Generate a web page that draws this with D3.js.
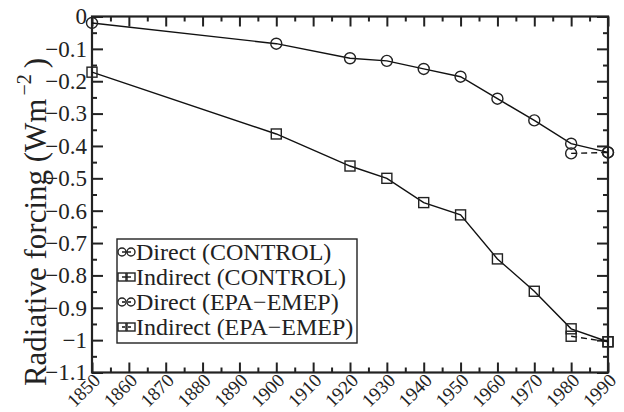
<!DOCTYPE html>
<html>
<head>
<meta charset="utf-8">
<script src="https://cdn.jsdelivr.net/npm/d3@7"></script>
<style>
  body { margin: 0; background: #fff; }
  svg, svg text { font-family: "Liberation Serif", "DejaVu Serif", "Times New Roman", serif; }
</style>
</head>
<body>
<div id="chart"></div>
<script>
/**
 * DATA
 * */
const years = [1850, 1900, 1920, 1930, 1940, 1950, 1960, 1970, 1980, 1990];
const directControl = [-0.02, -0.084, -0.129, -0.137, -0.162, -0.186, -0.254, -0.321, -0.393, -0.42];
const indirectControl = [-0.172, -0.363, -0.462, -0.5, -0.575, -0.613, -0.749, -0.849, -0.965, -1.005];
const epaYears = [1980, 1990];
const directEpa = [-0.423, -0.42];
const indirectEpa = [-0.988, -1.005];

const xTicks = d3.range(1850, 1991, 10);
const xMinor = d3.range(1855, 1990, 10);
const yTicks = [0, -0.1, -0.2, -0.3, -0.4, -0.5, -0.6, -0.7, -0.8, -0.9, -1, -1.1];
const yMinor = [-0.05, -0.15, -0.25, -0.35, -0.45, -0.55, -0.65, -0.75, -0.85, -0.95, -1.05];

const legendLabels = ["Direct (CONTROL)", "Indirect (CONTROL)", "Direct (EPA\u2212EMEP)", "Indirect (EPA\u2212EMEP)"];

/**
 * CONSTANTS
 * */
const width = 624,
  height = 412,
  margin = { top: 16.5, bottom: 39.5, left: 92, right: 16 };

const svg = d3.select("#chart")
  .append("svg")
  .attr("width", width)
  .attr("height", height);

const x = d3.scaleLinear().domain([1850, 1990]).range([margin.left, width - margin.right]);
const y = d3.scaleLinear().domain([0, -1.1]).range([margin.top, height - margin.bottom]);

const fmt = d3.format("~g");
const ink = "#222";
const serif = "'Liberation Serif', 'DejaVu Serif', 'Times New Roman', serif";

// axes: all ticks point inward
function styleAxis(g) {
  g.attr("font-family", null);
  g.select(".domain").remove();
  g.selectAll(".tick line").attr("stroke", ink).attr("stroke-width", 2);
}

svg.append("g")
  .attr("transform", `translate(0,${y(-1.1)})`)
  .call(d3.axisBottom(x).tickValues(xTicks).tickSize(-10).tickFormat(d => d))
  .call(styleAxis)
  .call(g => g.selectAll("text")
    .attr("font-size", 19)
    .style("font-family", serif)
    .attr("fill", ink)
    .attr("text-anchor", "end")
    .attr("y", 0).attr("dy", 0)
    .attr("transform", "translate(9,9) rotate(-45)"));

svg.append("g")
  .attr("transform", `translate(0,${y(-1.1)})`)
  .call(d3.axisBottom(x).tickValues(xMinor).tickSize(-5).tickFormat(""))
  .call(styleAxis);

svg.append("g")
  .attr("transform", `translate(0,${y(0)})`)
  .call(d3.axisTop(x).tickValues(xTicks).tickSize(-10).tickFormat(""))
  .call(styleAxis);

svg.append("g")
  .attr("transform", `translate(0,${y(0)})`)
  .call(d3.axisTop(x).tickValues(xMinor).tickSize(-5).tickFormat(""))
  .call(styleAxis);

svg.append("g")
  .attr("transform", `translate(${x(1850)},0)`)
  .call(d3.axisLeft(y).tickValues(yTicks).tickSize(-11).tickPadding(5).tickFormat(fmt))
  .call(styleAxis)
  .call(g => g.selectAll("text")
    .attr("font-size", 23)
    .style("font-family", serif)
    .attr("fill", ink));

svg.append("g")
  .attr("transform", `translate(${x(1850)},0)`)
  .call(d3.axisLeft(y).tickValues(yMinor).tickSize(-5).tickFormat(""))
  .call(styleAxis);

svg.append("g")
  .attr("transform", `translate(${x(1990)},0)`)
  .call(d3.axisRight(y).tickValues(yTicks).tickSize(-11).tickFormat(""))
  .call(styleAxis);

svg.append("g")
  .attr("transform", `translate(${x(1990)},0)`)
  .call(d3.axisRight(y).tickValues(yMinor).tickSize(-5).tickFormat(""))
  .call(styleAxis);

// frame
svg.append("rect")
  .attr("x", x(1850)).attr("y", y(0))
  .attr("width", x(1990) - x(1850)).attr("height", y(-1.1) - y(0))
  .attr("fill", "none").attr("stroke", ink).attr("stroke-width", 2.2);

// y title
svg.append("text")
  .attr("transform", `translate(46,222) rotate(-90)`)
  .attr("text-anchor", "middle")
  .attr("font-size", 31)
  .style("font-family", serif)
  .attr("fill", ink)
  .call(t => {
    t.append("tspan").text("Radiative forcing (Wm");
    t.append("tspan").attr("font-size", 20).attr("dy", -15).attr("dx", 3).text("\u22122");
    t.append("tspan").attr("dy", 15).attr("dx", 6).text(")");
  });

// series
const series = [
  { xs: years, ys: directControl, shape: "circle", dash: null },
  { xs: years, ys: indirectControl, shape: "square", dash: null },
  { xs: epaYears, ys: directEpa, shape: "circle", dash: "6,4" },
  { xs: epaYears, ys: indirectEpa, shape: "square", dash: "6,4" }
];

const line = d3.line().x(d => x(d[0])).y(d => y(d[1]));

function marker(g, shape, cx, cy, size) {
  if (shape === "circle") {
    g.append("circle").attr("cx", cx).attr("cy", cy).attr("r", size)
      .attr("fill", "none").attr("stroke", ink).attr("stroke-width", 1.4);
  } else {
    g.append("rect").attr("x", cx - size).attr("y", cy - size)
      .attr("width", size * 2).attr("height", size * 2)
      .attr("fill", "none").attr("stroke", ink).attr("stroke-width", 1.4);
  }
}

series.forEach(s => {
  const pts = s.xs.map((v, i) => [v, s.ys[i]]);
  svg.append("path")
    .attr("d", line(pts))
    .attr("fill", "none")
    .attr("stroke", "#111")
    .attr("stroke-width", 1.4)
    .attr("stroke-dasharray", s.dash);
  const g = svg.append("g");
  pts.forEach(p => marker(g, s.shape, x(p[0]), y(p[1]), s.shape === "circle" ? 5.5 : 5));
});

// legend
const lg = svg.append("g");
lg.append("rect")
  .attr("x", 117).attr("y", 239)
  .attr("width", 240).attr("height", 104)
  .attr("fill", "#fff").attr("stroke", ink).attr("stroke-width", 1.4);

legendLabels.forEach((lab, i) => {
  const s = series[i];
  const cy = 252 + i * 25;
  lg.append("line")
    .attr("x1", 122).attr("x2", 131).attr("y1", cy).attr("y2", cy)
    .attr("stroke", "#111").attr("stroke-width", 1.4)
    .attr("stroke-dasharray", s.dash ? "3,3" : null);
  marker(lg, s.shape, 122, cy, 4);
  marker(lg, s.shape, 131, cy, 4);
  lg.append("text")
    .attr("x", 136).attr("y", cy).attr("dy", "0.33em")
    .attr("font-size", 24)
    .style("font-family", serif)
    .attr("fill", ink)
    .text(lab);
});
</script>
</body>
</html>
